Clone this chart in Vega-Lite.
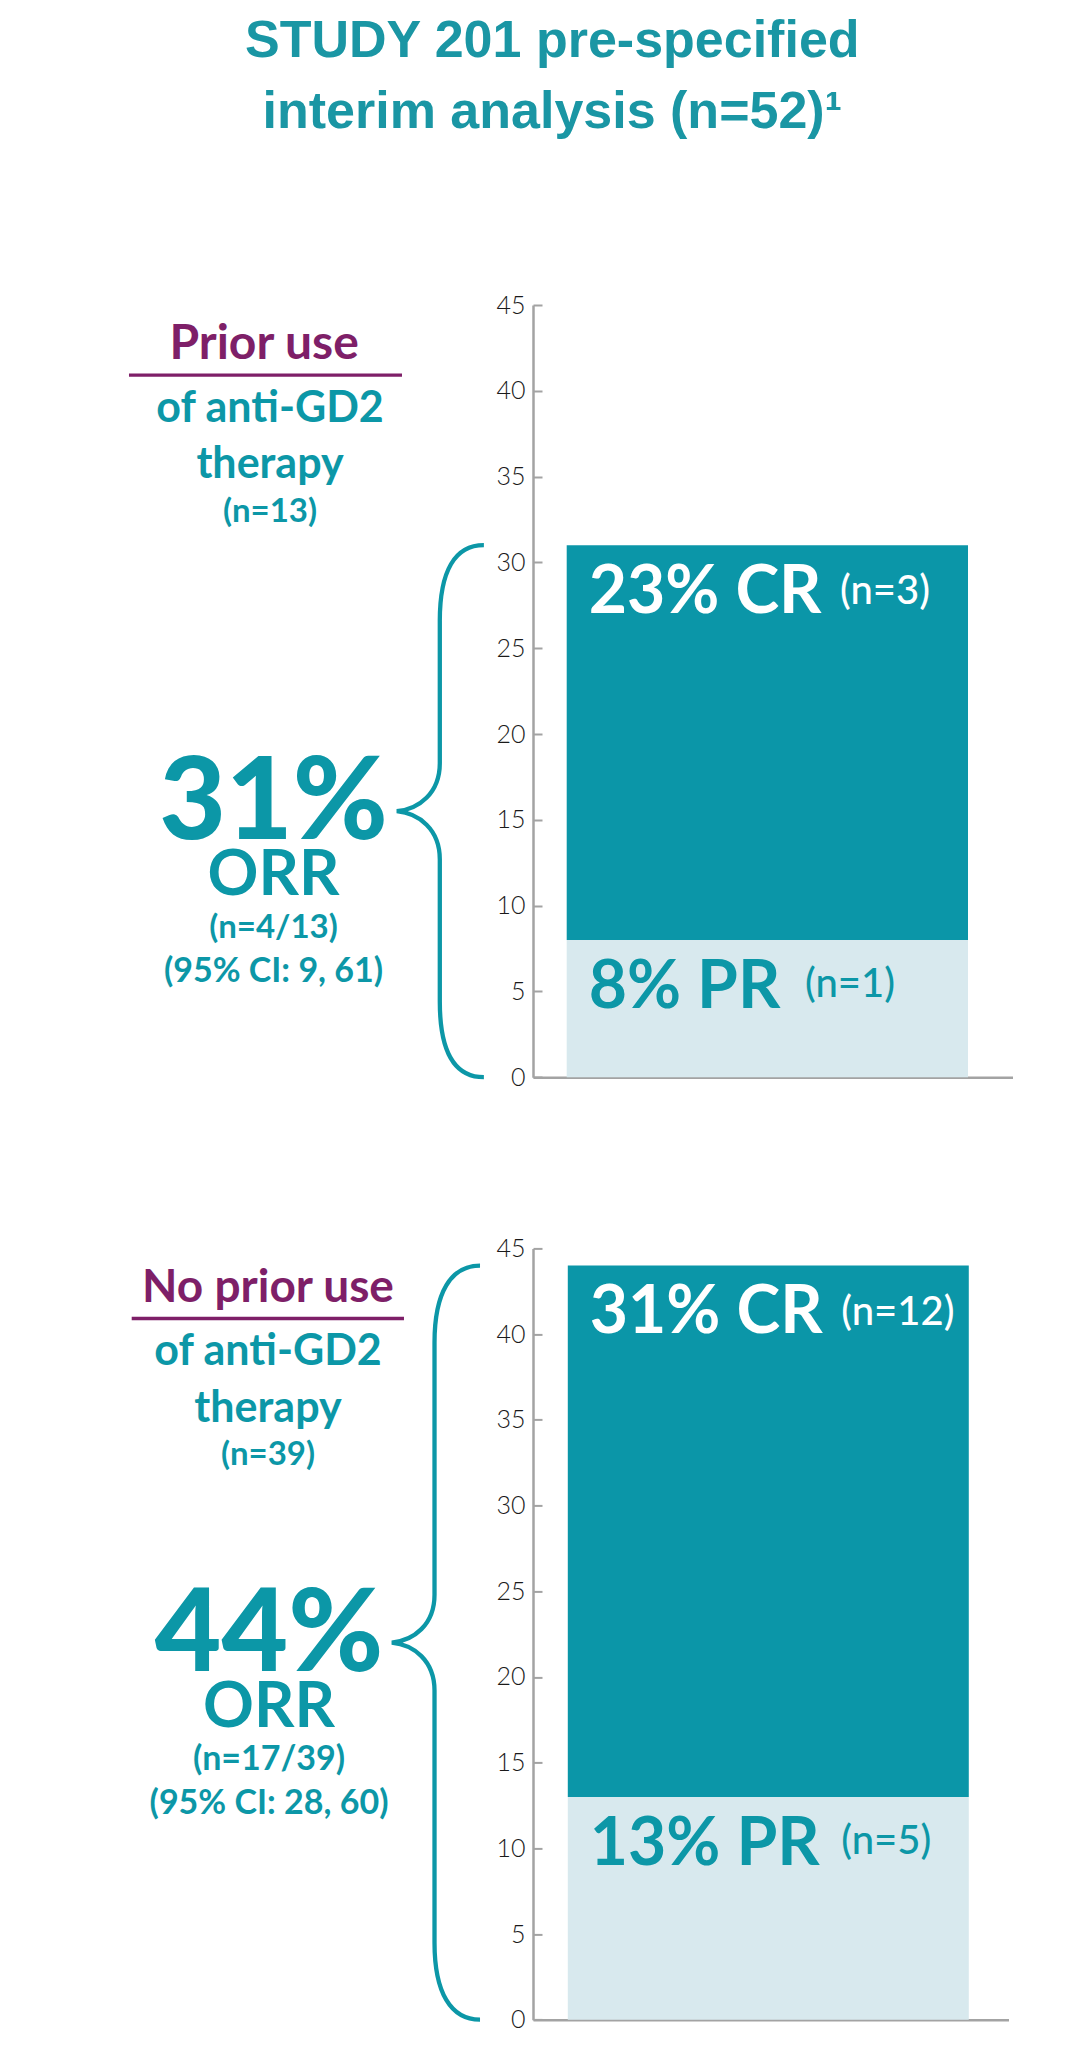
{
  "$schema": "https://vega.github.io/schema/vega-lite/v6.json",
  "padding": {"left": 0, "top": 15, "right": 0, "bottom": 0},
  "background": "white",
  "title": {
    "text": ["STUDY 201 pre-specified", "interim analysis (n=52)¹"],
    "font": "Liberation Sans",
    "fontSize": 52,
    "fontWeight": "bold",
    "color": "#1A96A4",
    "lineHeight": 71,
    "anchor": "middle",
    "offset": 154,
    "dx": 46
  },
  "datasets": {
    "bars1": [
      {"group": "Prior use", "type": "PR", "pct": 8, "n": 1, "label": "8% PR", "nlabel": "(n=1)"},
      {"group": "Prior use", "type": "CR", "pct": 23, "n": 3, "label": "23% CR", "nlabel": "(n=3)"}
    ],
    "bars2": [
      {"group": "No prior use", "type": "PR", "pct": 13, "n": 5, "label": "13% PR", "nlabel": "(n=5)"},
      {"group": "No prior use", "type": "CR", "pct": 31, "n": 12, "label": "31% CR", "nlabel": "(n=12)"}
    ],
    "ann1": [
      {"header": "Prior use", "sub1": "of anti-GD2", "sub2": "therapy", "ntotal": "(n=13)", "orr": "31%", "orrlabel": "ORR", "orrn": "(n=4/13)", "ci": "(95% CI: 9, 61)"}
    ],
    "ann2": [
      {"header": "No prior use", "sub1": "of anti-GD2", "sub2": "therapy", "ntotal": "(n=39)", "orr": "44%", "orrlabel": "ORR", "orrn": "(n=17/39)", "ci": "(95% CI: 28, 60)"}
    ]
  },
  "columns": 2,
  "align": "none",
  "bounds": "flush",
  "spacing": {"row": 170.4, "column": 0},
  "concat": [
    {
      "width": 533,
      "height": 772.2,
      "data": {"name": "ann1"},
      "layer": [
        {
          "mark": {"type": "text", "align": "center", "baseline": "alphabetic", "font": "Lato", "fontSize": 48, "fontWeight": 700, "color": "#7E1F68"},
          "encoding": {
            "x": {"datum": 0.4955, "type": "quantitative", "scale": {"domain": [0, 1], "nice": false, "zero": false}, "axis": null},
            "y": {"datum": 41.88, "type": "quantitative", "scale": {"domain": [0, 45], "nice": false, "zero": false}, "axis": null},
            "text": {"field": "header"}
          }
        },
        {
          "mark": {"type": "rule", "color": "#7E1F68", "strokeWidth": 3.3},
          "encoding": {
            "x": {"datum": 0.242, "type": "quantitative", "scale": {"domain": [0, 1], "nice": false, "zero": false}, "axis": null},
            "x2": {"datum": 0.7542},
            "y": {"datum": 40.91, "type": "quantitative", "scale": {"domain": [0, 45], "nice": false, "zero": false}, "axis": null}
          }
        },
        {
          "mark": {"type": "text", "align": "center", "baseline": "alphabetic", "font": "Lato", "fontSize": 43, "fontWeight": 700, "color": "#0C97A7"},
          "encoding": {
            "x": {"datum": 0.5066, "type": "quantitative", "scale": {"domain": [0, 1], "nice": false, "zero": false}, "axis": null},
            "y": {"datum": 38.19, "type": "quantitative", "scale": {"domain": [0, 45], "nice": false, "zero": false}, "axis": null},
            "text": {"field": "sub1"}
          }
        },
        {
          "mark": {"type": "text", "align": "center", "baseline": "alphabetic", "font": "Lato", "fontSize": 43, "fontWeight": 700, "color": "#0C97A7"},
          "encoding": {
            "x": {"datum": 0.5066, "type": "quantitative", "scale": {"domain": [0, 1], "nice": false, "zero": false}, "axis": null},
            "y": {"datum": 34.89, "type": "quantitative", "scale": {"domain": [0, 45], "nice": false, "zero": false}, "axis": null},
            "text": {"field": "sub2"}
          }
        },
        {
          "mark": {"type": "text", "align": "center", "baseline": "alphabetic", "font": "Lato", "fontSize": 33, "fontWeight": 700, "color": "#0C97A7"},
          "encoding": {
            "x": {"datum": 0.5066, "type": "quantitative", "scale": {"domain": [0, 1], "nice": false, "zero": false}, "axis": null},
            "y": {"datum": 32.38, "type": "quantitative", "scale": {"domain": [0, 45], "nice": false, "zero": false}, "axis": null},
            "text": {"field": "ntotal"}
          }
        },
        {
          "mark": {"type": "point", "filled": false, "opacity": 1, "color": "#0C97A7", "strokeWidth": 4.3, "size": 283024,
            "shape": "M 0.3277 -1 C 0.2185 -1 0.162 -0.904 0.162 -0.7156 L 0.162 -0.1808 C 0.162 -0.0678 0.0829 -0.0075 0 0 C 0.0829 0.0075 0.162 0.0678 0.162 0.1808 L 0.162 0.7156 C 0.162 0.904 0.2185 1 0.3277 1"},
          "encoding": {
            "x": {"datum": 0.7443, "type": "quantitative", "scale": {"domain": [0, 1], "nice": false, "zero": false}, "axis": null},
            "y": {"datum": 15.5, "type": "quantitative", "scale": {"domain": [0, 45], "nice": false, "zero": false}, "axis": null}
          }
        },
        {
          "mark": {"type": "text", "align": "center", "baseline": "alphabetic", "dy": 28, "font": "Lato", "fontSize": 115, "fontWeight": 900, "color": "#0C97A7"},
          "encoding": {
            "x": {"datum": 0.5131, "type": "quantitative", "scale": {"domain": [0, 1], "nice": false, "zero": false}, "axis": null},
            "y": {"datum": 15.5, "type": "quantitative", "scale": {"domain": [0, 45], "nice": false, "zero": false}, "axis": null},
            "text": {"field": "orr"}
          }
        },
        {
          "mark": {"type": "text", "align": "center", "baseline": "alphabetic", "dy": 84, "font": "Lato", "fontSize": 63, "fontWeight": 700, "color": "#0C97A7"},
          "encoding": {
            "x": {"datum": 0.5131, "type": "quantitative", "scale": {"domain": [0, 1], "nice": false, "zero": false}, "axis": null},
            "y": {"datum": 15.5, "type": "quantitative", "scale": {"domain": [0, 45], "nice": false, "zero": false}, "axis": null},
            "text": {"field": "orrlabel"}
          }
        },
        {
          "mark": {"type": "text", "align": "center", "baseline": "alphabetic", "dy": 127, "font": "Lato", "fontSize": 33, "fontWeight": 700, "color": "#0C97A7"},
          "encoding": {
            "x": {"datum": 0.5131, "type": "quantitative", "scale": {"domain": [0, 1], "nice": false, "zero": false}, "axis": null},
            "y": {"datum": 15.5, "type": "quantitative", "scale": {"domain": [0, 45], "nice": false, "zero": false}, "axis": null},
            "text": {"field": "orrn"}
          }
        },
        {
          "mark": {"type": "text", "align": "center", "baseline": "alphabetic", "dy": 171, "font": "Lato", "fontSize": 34, "fontWeight": 700, "color": "#0C97A7"},
          "encoding": {
            "x": {"datum": 0.5131, "type": "quantitative", "scale": {"domain": [0, 1], "nice": false, "zero": false}, "axis": null},
            "y": {"datum": 15.5, "type": "quantitative", "scale": {"domain": [0, 45], "nice": false, "zero": false}, "axis": null},
            "text": {"field": "ci"}
          }
        }
      ]
    },
    {
      "width": 479.5,
      "height": 772.2,
      "data": {"name": "bars1"},
      "encoding": {
        "x": {"field": "group", "type": "nominal", "scale": {"paddingInner": 0.1631, "paddingOuter": 0.08155, "align": 0.431},
          "axis": {"labels": false, "ticks": false, "title": null, "domainColor": "#a3a3a3", "domainWidth": 2.5}},
        "y": {"field": "pct", "type": "quantitative", "stack": "zero", "scale": {"domain": [0, 45], "nice": false},
          "axis": {"values": [0, 5, 10, 15, 20, 25, 30, 35, 40, 45], "title": null, "grid": false, "labelFont": "Lato", "labelFontSize": 25, "labelFontWeight": 300, "labelColor": "#1a1a1a", "labelFlush": false, "labelOverlap": false, "domainColor": "#a3a3a3", "domainWidth": 2.5, "tickColor": "#a3a3a3", "tickWidth": 2, "tickSize": -9, "labelPadding": 17}},
        "order": {"field": "type", "sort": "descending"}
      },
      "layer": [
        {
          "mark": {"type": "bar"},
          "encoding": {"color": {"field": "type", "type": "nominal", "scale": {"domain": ["CR", "PR"], "range": ["#0B96A8", "#D8E9EE"]}, "legend": null}}
        },
        {
          "mark": {"type": "text", "align": "left", "baseline": "alphabetic", "dx": 22, "dy": 67.7, "font": "Lato", "fontSize": 66, "fontWeight": 700},
          "encoding": {
            "x": {"field": "group", "type": "nominal", "bandPosition": 0},
            "text": {"field": "label"},
            "color": {"condition": {"test": "datum.type === 'CR'", "value": "#ffffff"}, "value": "#0C97A7"}
          }
        },
        {
          "transform": [
            {"stack": "pct", "groupby": ["group"], "sort": [{"field": "type", "order": "descending"}], "as": ["y0", "y1"]},
            {"filter": "datum.type === 'CR'"}
          ],
          "mark": {"type": "text", "align": "left", "baseline": "alphabetic", "dx": 273.3, "dy": 58.7, "font": "Lato", "fontSize": 40, "fontWeight": 500, "color": "#ffffff"},
          "encoding": {
            "x": {"field": "group", "type": "nominal", "bandPosition": 0},
            "y": {"field": "y1", "type": "quantitative"},
            "text": {"field": "nlabel"}
          }
        },
        {
          "transform": [
            {"stack": "pct", "groupby": ["group"], "sort": [{"field": "type", "order": "descending"}], "as": ["y0", "y1"]},
            {"filter": "datum.type === 'PR'"}
          ],
          "mark": {"type": "text", "align": "left", "baseline": "alphabetic", "dx": 238.3, "dy": 57, "font": "Lato", "fontSize": 40, "fontWeight": 500, "color": "#0C97A7"},
          "encoding": {
            "x": {"field": "group", "type": "nominal", "bandPosition": 0},
            "y": {"field": "y1", "type": "quantitative"},
            "text": {"field": "nlabel"}
          }
        }
      ]
    },
    {
      "width": 528.5,
      "height": 771.3,
      "data": {"name": "ann2"},
      "layer": [
        {
          "mark": {"type": "text", "align": "center", "baseline": "alphabetic", "font": "Lato", "fontSize": 46, "fontWeight": 700, "color": "#7E1F68"},
          "encoding": {
            "x": {"datum": 0.5071, "type": "quantitative", "scale": {"domain": [0, 1], "nice": false, "zero": false}, "axis": null},
            "y": {"datum": 41.88, "type": "quantitative", "scale": {"domain": [0, 45], "nice": false, "zero": false}, "axis": null},
            "text": {"field": "header"}
          }
        },
        {
          "mark": {"type": "rule", "color": "#7E1F68", "strokeWidth": 3.3},
          "encoding": {
            "x": {"datum": 0.2492, "type": "quantitative", "scale": {"domain": [0, 1], "nice": false, "zero": false}, "axis": null},
            "x2": {"datum": 0.7644},
            "y": {"datum": 40.91, "type": "quantitative", "scale": {"domain": [0, 45], "nice": false, "zero": false}, "axis": null}
          }
        },
        {
          "mark": {"type": "text", "align": "center", "baseline": "alphabetic", "font": "Lato", "fontSize": 43, "fontWeight": 700, "color": "#0C97A7"},
          "encoding": {
            "x": {"datum": 0.5071, "type": "quantitative", "scale": {"domain": [0, 1], "nice": false, "zero": false}, "axis": null},
            "y": {"datum": 38.19, "type": "quantitative", "scale": {"domain": [0, 45], "nice": false, "zero": false}, "axis": null},
            "text": {"field": "sub1"}
          }
        },
        {
          "mark": {"type": "text", "align": "center", "baseline": "alphabetic", "font": "Lato", "fontSize": 43, "fontWeight": 700, "color": "#0C97A7"},
          "encoding": {
            "x": {"datum": 0.5071, "type": "quantitative", "scale": {"domain": [0, 1], "nice": false, "zero": false}, "axis": null},
            "y": {"datum": 34.89, "type": "quantitative", "scale": {"domain": [0, 45], "nice": false, "zero": false}, "axis": null},
            "text": {"field": "sub2"}
          }
        },
        {
          "mark": {"type": "text", "align": "center", "baseline": "alphabetic", "font": "Lato", "fontSize": 33, "fontWeight": 700, "color": "#0C97A7"},
          "encoding": {
            "x": {"datum": 0.5071, "type": "quantitative", "scale": {"domain": [0, 1], "nice": false, "zero": false}, "axis": null},
            "y": {"datum": 32.38, "type": "quantitative", "scale": {"domain": [0, 45], "nice": false, "zero": false}, "axis": null},
            "text": {"field": "ntotal"}
          }
        },
        {
          "mark": {"type": "point", "filled": false, "opacity": 1, "color": "#0C97A7", "strokeWidth": 4.3, "size": 568516,
            "shape": "M 0.2342 -1 C 0.1565 -1 0.1135 -0.9284 0.1135 -0.7958 L 0.1135 -0.1273 C 0.1135 -0.0477 0.0584 -0.0053 0 0 C 0.0584 0.0053 0.1135 0.0477 0.1135 0.1273 L 0.1135 0.7958 C 0.1135 0.9284 0.1565 1 0.2342 1"},
          "encoding": {
            "x": {"datum": 0.7412, "type": "quantitative", "scale": {"domain": [0, 1], "nice": false, "zero": false}, "axis": null},
            "y": {"datum": 22, "type": "quantitative", "scale": {"domain": [0, 45], "nice": false, "zero": false}, "axis": null}
          }
        },
        {
          "mark": {"type": "text", "align": "center", "baseline": "alphabetic", "dy": 28, "font": "Lato", "fontSize": 115, "fontWeight": 900, "color": "#0C97A7"},
          "encoding": {
            "x": {"datum": 0.509, "type": "quantitative", "scale": {"domain": [0, 1], "nice": false, "zero": false}, "axis": null},
            "y": {"datum": 22, "type": "quantitative", "scale": {"domain": [0, 45], "nice": false, "zero": false}, "axis": null},
            "text": {"field": "orr"}
          }
        },
        {
          "mark": {"type": "text", "align": "center", "baseline": "alphabetic", "dy": 84, "font": "Lato", "fontSize": 63, "fontWeight": 700, "color": "#0C97A7"},
          "encoding": {
            "x": {"datum": 0.509, "type": "quantitative", "scale": {"domain": [0, 1], "nice": false, "zero": false}, "axis": null},
            "y": {"datum": 22, "type": "quantitative", "scale": {"domain": [0, 45], "nice": false, "zero": false}, "axis": null},
            "text": {"field": "orrlabel"}
          }
        },
        {
          "mark": {"type": "text", "align": "center", "baseline": "alphabetic", "dy": 127, "font": "Lato", "fontSize": 34, "fontWeight": 700, "color": "#0C97A7"},
          "encoding": {
            "x": {"datum": 0.509, "type": "quantitative", "scale": {"domain": [0, 1], "nice": false, "zero": false}, "axis": null},
            "y": {"datum": 22, "type": "quantitative", "scale": {"domain": [0, 45], "nice": false, "zero": false}, "axis": null},
            "text": {"field": "orrn"}
          }
        },
        {
          "mark": {"type": "text", "align": "center", "baseline": "alphabetic", "dy": 171, "font": "Lato", "fontSize": 34, "fontWeight": 700, "color": "#0C97A7"},
          "encoding": {
            "x": {"datum": 0.509, "type": "quantitative", "scale": {"domain": [0, 1], "nice": false, "zero": false}, "axis": null},
            "y": {"datum": 22, "type": "quantitative", "scale": {"domain": [0, 45], "nice": false, "zero": false}, "axis": null},
            "text": {"field": "ci"}
          }
        }
      ]
    },
    {
      "width": 475.5,
      "height": 771.3,
      "data": {"name": "bars2"},
      "encoding": {
        "x": {"field": "group", "type": "nominal", "scale": {"paddingInner": 0.1567, "paddingOuter": 0.07835, "align": 0.467},
          "axis": {"labels": false, "ticks": false, "title": null, "domainColor": "#a3a3a3", "domainWidth": 2.5}},
        "y": {"field": "pct", "type": "quantitative", "stack": "zero", "scale": {"domain": [0, 45], "nice": false},
          "axis": {"values": [0, 5, 10, 15, 20, 25, 30, 35, 40, 45], "title": null, "grid": false, "labelFont": "Lato", "labelFontSize": 25, "labelFontWeight": 300, "labelColor": "#1a1a1a", "labelFlush": false, "labelOverlap": false, "domainColor": "#a3a3a3", "domainWidth": 2.5, "tickColor": "#a3a3a3", "tickWidth": 2, "tickSize": -9, "labelPadding": 17}},
        "order": {"field": "type", "sort": "descending"}
      },
      "layer": [
        {
          "mark": {"type": "bar"},
          "encoding": {"color": {"field": "type", "type": "nominal", "scale": {"domain": ["CR", "PR"], "range": ["#0B96A8", "#D8E9EE"]}, "legend": null}}
        },
        {
          "mark": {"type": "text", "align": "left", "baseline": "alphabetic", "dx": 22, "dy": 67.7, "font": "Lato", "fontSize": 66, "fontWeight": 700},
          "encoding": {
            "x": {"field": "group", "type": "nominal", "bandPosition": 0},
            "text": {"field": "label"},
            "color": {"condition": {"test": "datum.type === 'CR'", "value": "#ffffff"}, "value": "#0C97A7"}
          }
        },
        {
          "transform": [
            {"stack": "pct", "groupby": ["group"], "sort": [{"field": "type", "order": "descending"}], "as": ["y0", "y1"]},
            {"filter": "datum.type === 'CR'"}
          ],
          "mark": {"type": "text", "align": "left", "baseline": "alphabetic", "dx": 273.4, "dy": 59, "font": "Lato", "fontSize": 40, "fontWeight": 500, "color": "#ffffff"},
          "encoding": {
            "x": {"field": "group", "type": "nominal", "bandPosition": 0},
            "y": {"field": "y1", "type": "quantitative"},
            "text": {"field": "nlabel"}
          }
        },
        {
          "transform": [
            {"stack": "pct", "groupby": ["group"], "sort": [{"field": "type", "order": "descending"}], "as": ["y0", "y1"]},
            {"filter": "datum.type === 'PR'"}
          ],
          "mark": {"type": "text", "align": "left", "baseline": "alphabetic", "dx": 273.4, "dy": 57, "font": "Lato", "fontSize": 40, "fontWeight": 500, "color": "#0C97A7"},
          "encoding": {
            "x": {"field": "group", "type": "nominal", "bandPosition": 0},
            "y": {"field": "y1", "type": "quantitative"},
            "text": {"field": "nlabel"}
          }
        }
      ]
    }
  ],
  "config": {"view": {"stroke": null}, "font": "Lato"}
}
